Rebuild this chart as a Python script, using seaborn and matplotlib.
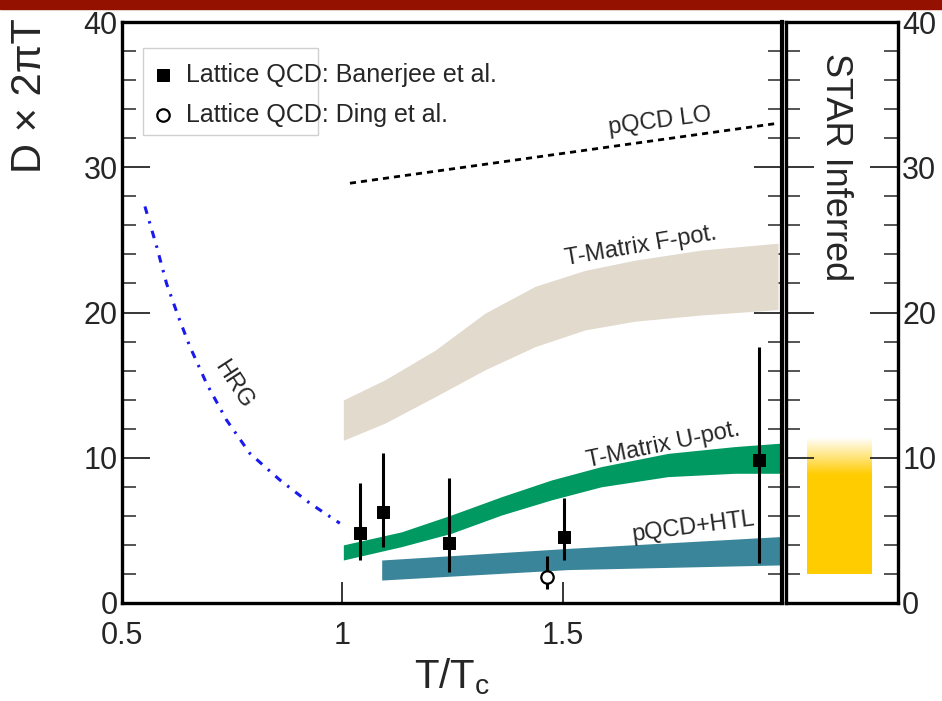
import numpy as np
import matplotlib
matplotlib.use("Agg")
import matplotlib.pyplot as plt
import seaborn as sns
from matplotlib.patches import Rectangle
from matplotlib.ticker import MultipleLocator

sns.set_theme(style="ticks")
plt.rcParams['font.family'] = ['Liberation Sans', 'DejaVu Sans']
plt.rcParams['mathtext.fontset'] = 'custom'
plt.rcParams['mathtext.rm'] = 'Liberation Sans'
plt.rcParams['mathtext.it'] = 'Liberation Sans:italic'

# ---------------- data ----------------
hrg_x = [0.552, 0.579, 0.601, 0.628, 0.654, 0.692, 0.737, 0.790, 0.858, 0.926, 0.994]
hrg_y = [27.3, 24.5, 22.0, 19.7, 17.65, 15.1, 12.6, 10.3, 8.47, 6.87, 5.49]

lo_x = [1.017, 1.981]
lo_y = [28.9, 33.0]

fpot_x = [1.002, 1.096, 1.21, 1.323, 1.437, 1.55, 1.663, 1.814, 1.988]
fpot_hi = [13.98, 15.36, 17.4, 19.95, 21.8, 22.9, 23.6, 24.3, 24.77]
fpot_lo = [11.2, 12.38, 14.2, 16.05, 17.65, 18.8, 19.4, 19.83, 20.2]

upot_x = [1.002, 1.134, 1.247, 1.361, 1.474, 1.587, 1.738, 1.89, 1.992]
upot_hi = [4.0, 4.9, 6.06, 7.32, 8.47, 9.39, 10.3, 10.77, 11.0]
upot_lo = [2.96, 3.88, 4.8, 6.06, 7.1, 8.0, 8.7, 8.93, 8.93]

htl_x = [1.089, 1.512, 1.992]
htl_hi = [2.96, 3.76, 4.57]
htl_lo = [1.58, 2.3, 2.62]

ban_x = [1.040, 1.091, 1.241, 1.502, 1.945]
ban_y = [4.84, 6.29, 4.11, 4.57, 9.85]
ban_hi = [8.24, 10.31, 8.59, 7.21, 17.6]
ban_lo = [2.96, 3.88, 2.16, 2.96, 2.73]

ding_x = [1.463]
ding_y = [1.81]
ding_hi = [3.24]
ding_lo = [0.96]

star_lo = 2.0
star_solid = 8.8
star_hi = 11.4

xticks = [0.5, 1, 1.5]
xticklabels = ["0.5", "1", "1.5"]
yticks = [0, 10, 20, 30, 40]

# ---------------- figure ----------------
fig = plt.figure(figsize=(9.42, 7.01), dpi=100)
fig.patches.append(Rectangle((0, 1 - 9 / 701), 1, 9 / 701, transform=fig.transFigure,
                             color="#941100", zorder=10))

ax = fig.add_axes([122 / 942, 1 - 603 / 701, 660 / 942, 581 / 701])
axr = fig.add_axes([786 / 942, 1 - 603 / 701, 112 / 942, 581 / 701])

# bands
ax.fill_between(fpot_x, fpot_lo, fpot_hi, color="#e1dacd", lw=0)
ax.fill_between(upot_x, upot_lo, upot_hi, color="#009962", lw=0)
ax.fill_between(htl_x, htl_lo, htl_hi, color="#3a8599", lw=0)

# lines
sns.lineplot(x=hrg_x, y=hrg_y, ax=ax, color="#1a1aee", lw=2.2)
ax.lines[-1].set_dashes([2.5, 2.5, 0.8, 2.5])
sns.lineplot(x=lo_x, y=lo_y, ax=ax, color="black", lw=2.0)
ax.lines[-1].set_dashes([2.2, 1.8])

# lattice points
ban_y_a = np.array(ban_y)
ax.errorbar(ban_x, ban_y, yerr=[ban_y_a - np.array(ban_lo), np.array(ban_hi) - ban_y_a],
            fmt="none", ecolor="black", elinewidth=2.2, capsize=0, zorder=4)
sns.scatterplot(x=ban_x, y=ban_y, ax=ax, marker="s", s=80, color="black",
                edgecolor="black", zorder=5, label="Lattice QCD: Banerjee et al.")
ding_y_a = np.array(ding_y)
ax.errorbar(ding_x, ding_y, yerr=[ding_y_a - np.array(ding_lo), np.array(ding_hi) - ding_y_a],
            fmt="none", ecolor="black", elinewidth=2.2, capsize=0, zorder=4)
sns.scatterplot(x=ding_x, y=ding_y, ax=ax, marker="o", s=80, color="white",
                edgecolor="black", linewidth=1.6, zorder=5, label="Lattice QCD: Ding et al.")

# legend
ax.add_patch(Rectangle((0.032, 0.8055), 0.265, 0.15, transform=ax.transAxes,
                       fill=False, edgecolor="#d0d0d0", lw=1, zorder=3))
leg = ax.legend(loc="upper left", bbox_to_anchor=(0.047, 0.93), frameon=False,
                fontsize=18, handlelength=0.8, handletextpad=0.5, labelspacing=0.65,
                borderaxespad=0, borderpad=0)

# annotations
txt_kw = dict(fontsize=17, ha="center", va="center", rotation_mode="anchor")
ax.text(1.72, 33.15, "pQCD LO", rotation=7.4, **txt_kw)
ax.text(1.678, 24.55, "T-Matrix F-pot.", rotation=9.7, **txt_kw)
ax.text(1.727, 10.88, "T-Matrix U-pot.", rotation=11.8, **txt_kw)
ax.text(1.796, 5.25, "pQCD+HTL", rotation=7.5, **txt_kw)
ax.text(0.752, 15.0, "HRG", rotation=-57, **txt_kw)

# axes styling main
ax.set_xlim(0.5, 1.997)
ax.set_ylim(0, 40)
ax.set_xticks(xticks)
ax.set_xticklabels(xticklabels)
ax.set_yticks(yticks)
ax.yaxis.set_minor_locator(MultipleLocator(2))
ax.tick_params(axis="y", which="major", direction="in", length=20, width=1.3,
               left=True, right=True, labelsize=22, pad=3)
ax.tick_params(axis="y", which="minor", direction="in", length=10, width=1.1,
               left=True, right=True)
ax.tick_params(axis="x", which="major", direction="in", length=15, width=1.3,
               labelsize=22, pad=13)
for s in ["left", "bottom", "top"]:
    ax.spines[s].set_linewidth(2.4)
ax.spines["right"].set_linewidth(3.0)
for s in ax.spines.values():
    s.set_color("black")
ax.set_ylabel("D × 2πT", fontsize=30)
ax.yaxis.set_label_coords(-0.109, 0.874)
ax.set_xlabel(r"T/T$_{\rm c}$", fontsize=29, labelpad=4)

# right panel
axr.fill_between([0.19, 0.77], star_lo, star_solid, color="#ffcc00", lw=0)
grad = np.ones((60, 1, 4))
grad[..., 0] = 1.0
grad[..., 1] = 0.8
grad[..., 2] = 0.0
grad[:, 0, 3] = np.linspace(1, 0, 60)
axr.imshow(grad, extent=[0.19, 0.77, star_solid, star_hi], origin="lower",
           aspect="auto", interpolation="bilinear")
axr.set_xlim(0, 1)
axr.set_ylim(0, 40)
axr.text(0.44, 0.75, "STAR Inferred", rotation=-90, fontsize=26,
         ha="center", va="center", transform=axr.transAxes)
axr.set_xticks([])
axr.set_yticks(yticks)
axr.yaxis.set_minor_locator(MultipleLocator(2))
axr.yaxis.tick_right()
axr.tick_params(axis="y", which="major", direction="in", length=20, width=1.3,
                left=True, right=True, labelleft=False, labelright=True,
                labelsize=22, pad=3)
axr.tick_params(axis="y", which="minor", direction="in", length=10, width=1.1,
                left=True, right=True)
for s in axr.spines.values():
    s.set_linewidth(2.4)
    s.set_color("black")

fig.savefig("out.png", dpi=100)
